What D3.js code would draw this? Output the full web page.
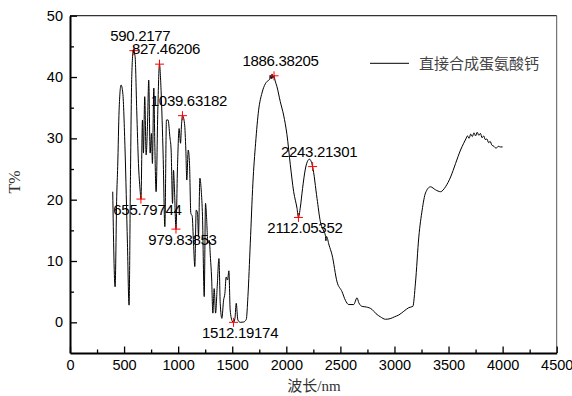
<!DOCTYPE html>
<html>
<head>
<meta charset="utf-8">
<script src="https://cdn.jsdelivr.net/npm/d3@7"></script>
<style>
  body { margin: 0; background: #fff; }
  svg { display: block; }
  .tick text { font-family: "Liberation Sans", Arial, sans-serif; font-size: 14.5px; fill: #000; }
</style>
</head>
<body>
<svg id="chart"></svg>
<script>
// spectrum
const wavenumber = [395, 417, 432, 441, 454, 472, 488, 509, 531, 546, 559, 571, 586, 602, 617, 633, 648, 656,
  670, 679, 691, 704, 716, 728, 741, 753, 762, 775, 784, 796, 812, 827, 843, 861, 877, 892, 907, 923, 935,
  948, 957, 966, 980, 994, 1009, 1022, 1031, 1040, 1059, 1071, 1080, 1093, 1105, 1117, 1130, 1142, 1154,
  1167, 1179, 1188, 1201, 1213, 1225, 1241, 1253, 1262, 1275, 1287, 1299, 1309, 1321, 1333, 1346, 1361,
  1377, 1389, 1404, 1420, 1432, 1444, 1457, 1469, 1481, 1500, 1512, 1525, 1537, 1552, 1574, 1605, 1630,
  1645, 1667, 1691, 1716, 1744, 1775, 1806, 1830, 1845, 1852, 1860, 1868, 1875, 1886, 1895, 1914, 1944,
  1975, 2006, 2037, 2068, 2099, 2112, 2130, 2150, 2176, 2200, 2215, 2243, 2284, 2315, 2345, 2361, 2366,
  2372, 2395, 2423, 2469, 2515, 2546, 2577, 2623, 2654, 2670, 2701, 2740, 2793, 2830, 2870, 2917, 2960,
  3000, 3040, 3086, 3133, 3170, 3194, 3225, 3256, 3287, 3333, 3380, 3426, 3472, 3519, 3565, 3611, 3640,
  3660, 3675, 3690, 3705, 3720, 3735, 3750, 3765, 3780, 3795, 3810, 3825, 3840, 3855, 3870, 3885, 3900,
  3920, 3940, 3960, 3980, 4000];
const transmittance = [21.3, 5.8, 20.5, 25.4, 34.6, 38.7, 37.4, 28.1, 12.9, 2.8, 23.8, 40.1, 44.4, 43.3, 34.6,
  25.9, 21.6, 20.1, 33.0, 27.6, 36.8, 27.3, 31.9, 39.5, 27.6, 30.8, 25.9, 38.2, 29.2, 21.3, 34.6, 42.1, 37.4,
  27.3, 15.6, 33.0, 33.0, 30.3, 28.1, 19.4, 24.8, 21.6, 15.2, 25.4, 31.6, 29.2, 32.2, 33.7, 32.4, 28.1, 23.2,
  28.1, 25.9, 17.8, 17.3, 12.9, 9.1, 18.3, 17.8, 14.0, 23.5, 21.6, 17.3, 4.2, 19.4, 17.3, 12.9, 13.4, 10.4,
  7.4, 1.5, 5.5, 1.5, 5.8, 10.4, 3.1, 0.65, 3.6, 4.7, 7.4, 6.9, 8.4, 2.0, 0.2, 0.0, 0.65, 3.1, 0.4, 0.0,
  0.05, 0.5, 4.2, 12.9, 22.7, 29.2, 34.6, 37.4, 38.9, 39.4, 39.6, 40.3, 39.7, 40.5, 39.8, 40.2, 39.5, 38.4,
  36.0, 33.8, 30.6, 25.7, 21.3, 18.6, 17.1, 18.8, 21.8, 25.0, 26.4, 26.6, 25.4, 20.2, 16.4, 14.9, 14.2,
  13.3, 14.0, 12.6, 11.0, 6.6, 5.0, 3.6, 2.9, 2.9, 4.0, 3.2, 2.6, 2.5, 2.1, 1.4, 0.9, 0.5, 0.6, 0.9, 1.2,
  1.8, 2.4, 2.6, 6.4, 13.9, 18.3, 21.1, 22.1, 21.6, 21.3, 22.1, 23.7, 25.9, 28.1, 29.2, 29.9, 30.4, 30.0,
  30.7, 30.3, 30.9, 30.4, 31.0, 30.5, 30.8, 30.1, 30.4, 29.8, 29.9, 29.3, 29.5, 28.9, 28.7, 28.4, 28.7,
  28.6, 28.6];

// marked peaks
const peakLabels = ['590.2177', '827.46206', '1039.63182', '655.79744', '979.83853', '1512.19174',
  '1886.38205', '2243.21301', '2112.05352'];
const peakX = [590.2177, 827.46206, 1039.63182, 655.79744, 979.83853, 1512.19174, 1886.38205, 2243.21301, 2112.05352];
const peakY = [44.3, 42.1, 33.7, 20.1, 15.2, 0.0, 40.2, 25.4, 17.1];
const peakAbove = [true, true, true, false, false, false, true, true, false];

const xMajor = [0, 500, 1000, 1500, 2000, 2500, 3000, 3500, 4000, 4500];
const xMinor = [250, 750, 1250, 1750, 2250, 2750, 3250, 3750, 4250];
const yMajor = [0, 10, 20, 30, 40, 50];
const yMinor = [5, 15, 25, 35, 45];

const seriesName = '直接合成蛋氨酸钙';
const xTitle = '波长/nm';
const yTitle = 'T%';

const W = 572, H = 396;
const margin = { top: 15.7, right: 15.3, bottom: 43, left: 70 };
const width = W - margin.left - margin.right;
const height = H - margin.top - margin.bottom;

const svg = d3.select('#chart').attr('width', W).attr('height', H);
const g = svg.append('g').attr('transform', `translate(${margin.left},${margin.top})`);

const x = d3.scaleLinear().domain([0, 4500]).range([0, width]);
const y = d3.scaleLinear().domain([-5, 50]).range([height, 0]);

// frame top / right
g.append('line').attr('x1', 0).attr('x2', width).attr('y1', 0).attr('y2', 0)
  .attr('stroke', '#333').attr('stroke-width', 1.2);
g.append('line').attr('x1', width).attr('x2', width).attr('y1', 0).attr('y2', height)
  .attr('stroke', '#555').attr('stroke-width', 1);

// minor ticks
g.append('g').attr('transform', `translate(0,${height})`)
  .call(d3.axisBottom(x).tickValues(xMinor).tickSize(-3.5).tickFormat(''))
  .call(a => a.select('.domain').remove())
  .selectAll('line').attr('stroke-width', 1.3);
g.append('g')
  .call(d3.axisLeft(y).tickValues(yMinor).tickSize(-4).tickFormat(''))
  .call(a => a.select('.domain').remove())
  .selectAll('line').attr('stroke-width', 1.3);

// major axes
const xAxis = g.append('g').attr('transform', `translate(0,${height})`)
  .call(d3.axisBottom(x).tickValues(xMajor).tickFormat(d3.format('d'))
    .tickSize(-6.5).tickSizeOuter(0).tickPadding(7));
xAxis.select('.domain').attr('stroke-width', 2);
xAxis.selectAll('line').attr('stroke-width', 1.3);

const yAxis = g.append('g')
  .call(d3.axisLeft(y).tickValues(yMajor).tickFormat(d3.format('d'))
    .tickSize(-7).tickSizeOuter(0).tickPadding(7));
yAxis.select('.domain').attr('stroke-width', 2);
yAxis.selectAll('line').attr('stroke-width', 1.3);

// spectrum line
const pts = wavenumber.map((v, i) => [v, transmittance[i]]);
g.append('path')
  .datum(pts)
  .attr('fill', 'none')
  .attr('stroke', '#000')
  .attr('stroke-width', 1)
  .attr('stroke-linejoin', 'round')
  .attr('d', d3.line().x(d => x(d[0])).y(d => y(d[1])).curve(d3.curveMonotoneX));

// peak markers
const marks = g.append('g');
peakX.forEach((v, i) => {
  const cx = x(v), cy = y(peakY[i]);
  marks.append('line').attr('x1', cx - 4.5).attr('x2', cx + 4.5).attr('y1', cy).attr('y2', cy)
    .attr('stroke', '#ff0000').attr('stroke-width', 1);
  marks.append('line').attr('x1', cx).attr('x2', cx).attr('y1', cy - 4.5).attr('y2', cy + 4.5)
    .attr('stroke', '#ff0000').attr('stroke-width', 1);
  marks.append('text')
    .attr('x', cx + 6.5)
    .attr('y', peakAbove[i] ? cy - 10 : cy + 16)
    .attr('text-anchor', 'middle')
    .attr('font-family', '"Liberation Sans", Arial, sans-serif')
    .attr('font-size', 15)
    .attr('letter-spacing', -0.3)
    .attr('fill', '#000')
    .text(peakLabels[i]);
});

// legend
const lg = svg.append('g');
lg.append('line').attr('x1', 370).attr('x2', 409).attr('y1', 63.3).attr('y2', 63.3)
  .attr('stroke', '#000').attr('stroke-width', 1);
lg.append('text').attr('x', 419).attr('y', 63.3).attr('dy', '0.35em')
  .attr('font-family', '"Noto Sans CJK SC", sans-serif')
  .attr('font-size', 15).attr('fill', '#444')
  .text(seriesName);

// axis titles
svg.append('text')
  .attr('x', 314).attr('y', 391)
  .attr('text-anchor', 'middle')
  .attr('font-family', '"Liberation Serif", "Noto Sans CJK SC", serif')
  .attr('font-size', 15).attr('fill', '#333')
  .text(xTitle);
svg.append('text')
  .attr('transform', 'translate(20,182) rotate(-90)')
  .attr('text-anchor', 'middle')
  .attr('font-family', '"Liberation Serif", serif')
  .attr('font-size', 16).attr('fill', '#333')
  .text(yTitle);
</script>
</body>
</html>
